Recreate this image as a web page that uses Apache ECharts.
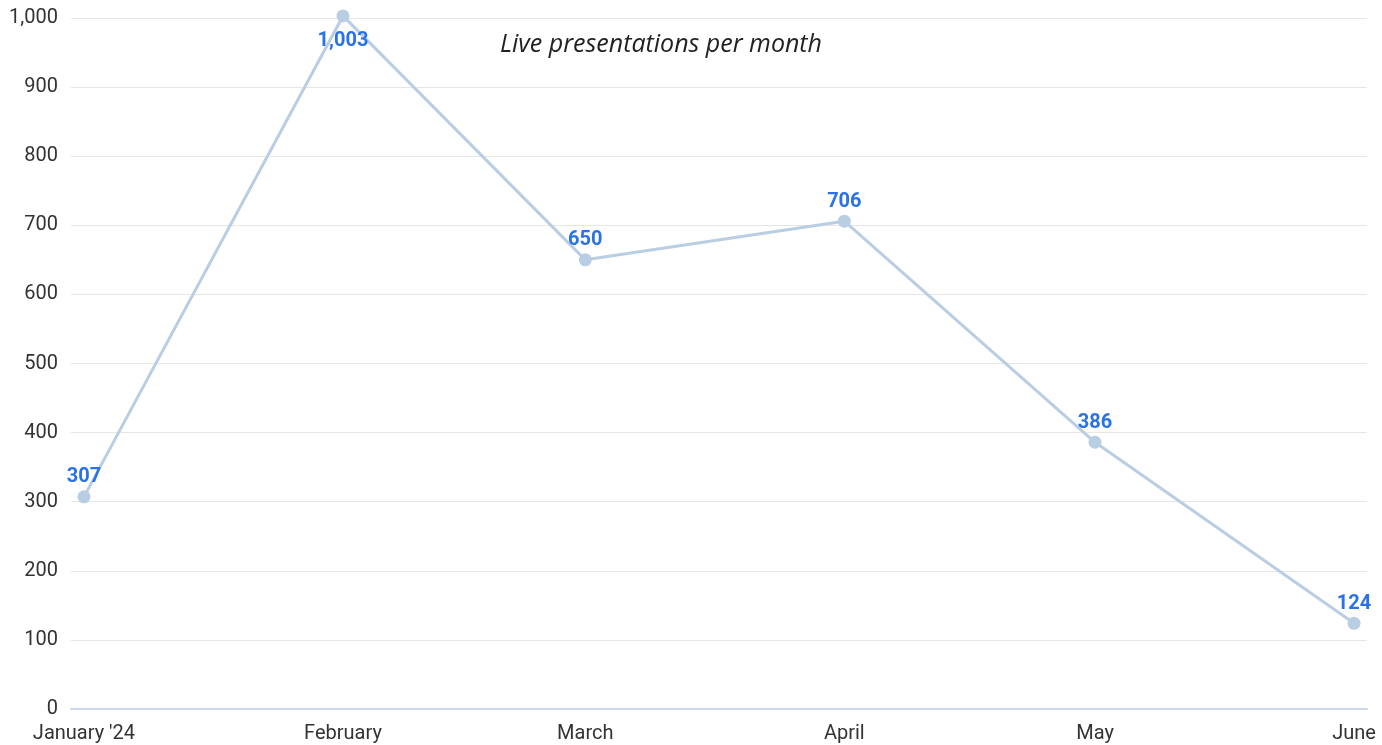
<!DOCTYPE html>
<html>
<head>
<meta charset="utf-8">
<script src="https://cdn.jsdelivr.net/npm/echarts@6/dist/echarts.min.js"></script>
<style>
    html, body { margin: 0; padding: 0; background: #fff; }
    #chart { width: 1382px; height: 745px; }
</style>
</head>
<body>
<div id="chart"></div>
<script>
const months = ["January '24", "February", "March", "April", "May", "June"]
const monthDates = ["2024-01-01", "2024-02-01", "2024-03-01", "2024-04-01", "2024-05-01", "2024-06-01"]
const presentations = [307, 1003, 650, 706, 386, 124]
const yTicks = [0, 100, 200, 300, 400, 500, 600, 700, 800, 900, 1000]

;(function () {
    const myChart = echarts.init(document.getElementById("chart"))

    const fmt = function (v) {
        return Number(v).toLocaleString("en-US")
    }

    // days since first month, so the spacing follows month lengths
    const DAY = 24 * 3600 * 1000
    const start = Date.parse(monthDates[0] + "T00:00:00Z")
    const days = monthDates.map(function (d) {
        return Math.round((Date.parse(d + "T00:00:00Z") - start) / DAY)
    })

    const points = presentations.map(function (v, i) {
        const top = v >= 1000
        return {
            value: [days[i], v],
            label: { position: top ? "bottom" : "top", distance: top ? 9 : 3 }
        }
    })

    const option = {
        animation: false,
        title: {
            text: "Live presentations per month",
            left: 495,
            top: 27,
            textStyle: {
                fontFamily: "Open Sans",
                fontStyle: "italic",
                fontWeight: "normal",
                fontSize: 25,
                color: "#222"
            }
        },
        grid: {
            left: 71,
            right: 15,
            top: 18,
            bottom: 36
        },
        xAxis: {
            type: "value",
            min: days[0] - 1.55,
            max: days[days.length - 1] + 1.55,
            splitLine: { show: false },
            axisLine: { show: true, lineStyle: { color: "#ccd6eb", width: 2 } },
            axisTick: { show: false },
            axisLabel: {
                customValues: days,
                formatter: function (v) {
                    return months[days.indexOf(Math.round(v))]
                },
                color: "#333",
                fontFamily: "Roboto",
                fontSize: 20,
                margin: 15
            }
        },
        yAxis: {
            type: "value",
            min: yTicks[0],
            max: yTicks[yTicks.length - 1],
            interval: 100,
            axisLine: { show: false },
            axisTick: { show: false },
            splitLine: { lineStyle: { color: "#e6e6e6", width: 1 } },
            axisLabel: {
                formatter: fmt,
                color: "#333",
                fontFamily: "Roboto",
                fontSize: 20,
                margin: 13
            }
        },
        series: [
            {
                type: "line",
                data: points,
                clip: false,
                symbol: "circle",
                symbolSize: 13,
                lineStyle: { color: "#b9cde3", width: 3 },
                itemStyle: { color: "#b9cde3" },
                labelLayout: { hideOverlap: false },
                label: {
                    show: true,
                    formatter: function (p) { return fmt(p.value[1]) },
                    color: "#2a72e5",
                    fontFamily: "Roboto",
                    fontWeight: "bold",
                    fontSize: 20
                }
            }
        ]
    }

    myChart.setOption(option)

    window.addEventListener("resize", function () {
        myChart.resize()
    })
})()
</script>
</body>
</html>
